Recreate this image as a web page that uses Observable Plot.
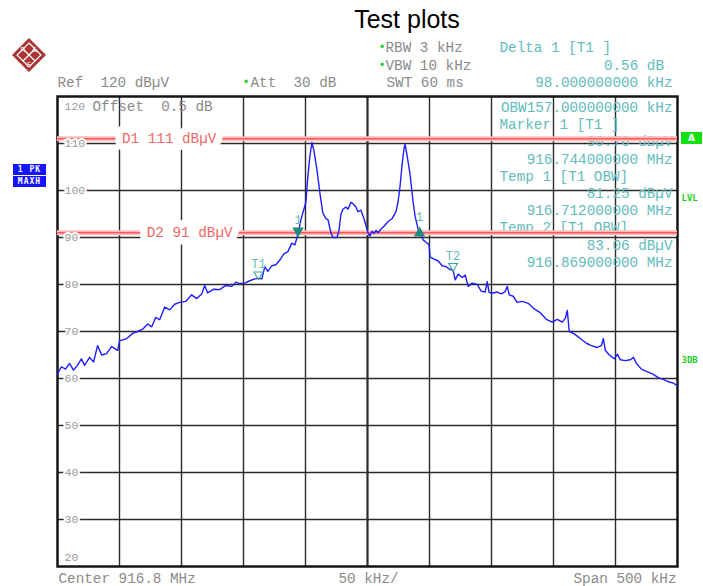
<!DOCTYPE html>
<html><head><meta charset="utf-8">
<script src="https://cdn.jsdelivr.net/npm/d3@7"></script>
<script src="https://cdn.jsdelivr.net/npm/@observablehq/plot@0.6"></script>
<style>
body{margin:0;background:#fff;}
#page{position:relative;width:703px;height:586px;overflow:hidden;}
#title{position:absolute;left:407px;top:4px;transform:translateX(-50%);font:25px/30px "Liberation Sans",Arial,sans-serif;color:#000;white-space:nowrap;z-index:2;}
#chart{position:absolute;left:0;top:35px;z-index:1;}
.badge{position:absolute;left:13px;width:33px;height:11px;background:#1414ff;color:#fff;font:bold 8px/11px "DejaVu Sans Mono",monospace;text-align:center;letter-spacing:1px;z-index:3;}
#abox{position:absolute;left:681px;top:132px;width:21px;height:12px;background:#11e011;color:#fff;font:bold 9px/12px "DejaVu Sans",sans-serif;text-align:center;z-index:3;}
#logo{position:absolute;left:10px;top:36px;z-index:3;}
</style></head>
<body><div id="page">
<div id="title"></div>
<svg id="logo" width="38" height="38" viewBox="0 0 38 38">
  <polygon points="19,2 36,19 19,36 2,19" fill="#a83434"/>
  <polygon points="19,7 31,19 19,31 7,19" fill="none" stroke="#fff" stroke-width="1.2"/>
  <line x1="13" y1="25" x2="25" y2="13" stroke="#fff" stroke-width="1.2"/>
  <line x1="13" y1="13" x2="25" y2="25" stroke="#fff" stroke-width="1.2"/>
  <text x="13" y="16" font-size="7" fill="#fff" font-family="DejaVu Sans" text-anchor="middle">R</text>
  <text x="25" y="16" font-size="7" fill="#fff" font-family="DejaVu Sans" text-anchor="middle">&amp;</text>
  <text x="19" y="31" font-size="7" fill="#fff" font-family="DejaVu Sans" text-anchor="middle">S</text>
</svg>
<div id="chart"></div>
</div>
<script>
// ---------- data ----------
const titleText = "Test plots";
const traceKHz = [-250,-246.8,-243.6,-240.3,-237.1,-233.9,-230.7,-228.2,-224.1,-220.9,-217.7,-214.4,-210.4,-206.4,-201.5,-199.9,-194.2,-189.4,-185.3,-181.3,-177.3,-174.0,-170.8,-167.6,-163.5,-159.5,-155.5,-151.5,-146.6,-141.8,-137.7,-133.7,-131.3,-128.9,-124.0,-119.2,-114.3,-109.5,-106.2,-103.0,-99.0,-94.9,-90.9,-87.7,-85.2,-82.8,-80.4,-77.1,-73.9,-70.7,-67.4,-64.2,-61.0,-58.6,-56.0,-53.7,-51.3,-49.7,-48.1,-46.4,-44.8,-43.2,-40.8,-38.4,-36.0,-33.5,-31.9,-29.5,-27.9,-24.6,-23.0,-21.4,-19.8,-17.4,-15.8,-13.3,-11.7,-9.3,-7.7,-5.3,-2.8,-1.2,0.4,2.0,3.6,5.3,6.9,8.5,10.9,13.3,16.6,19.8,23.0,24.6,26.3,27.9,29.5,30.3,31.9,34.3,36.8,38.4,40.8,42.0,44.8,47.3,49.7,50.5,53.7,57.0,60.2,63.4,66.6,69.0,70.7,73.1,76.4,78.8,81.2,84.4,88.5,91.7,94.9,96.5,98.1,101.4,104.6,107.8,111.0,112.7,114.3,117.5,120.7,124.8,129.6,134.5,139.3,144.2,149.0,153.0,157.1,159.5,161.1,162.7,166.8,171.6,176.5,180.5,185.3,188.6,190.2,191.8,195.0,199.1,201.5,203.9,208.0,212.0,214.5,216.9,220.9,224.9,229.8,234.6,239.5,242.7,246.7,250.0];
const traceDB = [61.0,62.5,62.0,63.2,61.8,62.8,64.2,62.8,64.5,63.5,67.0,65.0,65.3,66.8,66.0,68.0,68.5,69.6,70.0,70.5,71.6,71.0,73.0,72.5,75.2,74.6,75.8,76.2,76.4,77.8,77.0,78.0,79.8,78.2,79.0,78.9,79.8,79.6,80.5,80.2,80.3,80.8,81.2,81.3,81.2,83.8,82.8,84.0,84.2,85.2,86.5,87.0,88.8,88.4,90.8,93.8,96.0,97.5,103.0,107.5,110.2,108.5,104.5,99.5,95.2,94.0,93.8,91.0,90.0,90.0,91.5,95.0,96.0,96.5,96.0,97.5,97.2,96.5,95.5,95.8,94.0,92.5,91.0,90.3,91.3,90.9,91.5,91.0,91.8,92.4,93.4,94.0,95.5,97.5,101.0,105.5,109.0,109.8,107.5,103.5,97.5,94.5,91.8,91.3,89.5,89.0,88.4,85.8,85.4,85.0,84.0,83.8,83.2,83.06,81.0,82.2,81.5,82.0,79.6,80.3,80.0,78.6,78.4,80.6,78.3,78.2,78.4,78.0,78.5,79.6,77.8,77.5,76.2,76.4,76.0,74.8,74.0,72.6,72.0,72.6,72.0,72.8,74.5,70.0,69.5,68.5,67.5,67.0,66.6,67.0,68.5,66.0,65.0,64.2,65.2,64.0,63.8,64.0,64.5,63.2,62.0,61.5,61.0,60.2,59.7,59.3,59.0,58.4];
const gridKHz = [-200,-150,-100,-50,0,50,100,150,200];
const gridDB = [30,40,50,60,70,80,90,100,110];
const edgeDB = [120,20];
const displayLineDB = [111,91];
const displayLineLabels = ["D1 111 dBµV","D2 91 dBµV"];
const displayLabelKHz = [-198,-178];
const markerNames = ["1","1","T1","T2"];
const markerKHz = [-56,42,-88,69];
const markerDB = [90.76,91.32,81.25,83.06];
const settingsText = ["Ref  120 dBµV","Att  30 dB","RBW 3 kHz","VBW 10 kHz","SWT 60 ms"];
const deltaText = ["Delta 1 [T1 ]","0.56 dB","98.000000000 kHz"];
const readoutText = ["OBW157.000000000 kHz","Marker 1 [T1 ]","90.76 dBµV","916.744000000 MHz","Temp 1 [T1 OBW]","81.25 dBµV","916.712000000 MHz","Temp 2 [T1 OBW]","83.06 dBµV","916.869000000 MHz"];
const offsetText = "Offset  0.5 dB";
const footerText = ["Center 916.8 MHz","50 kHz/","Span 500 kHz"];
const badgeText = ["1 PK","MAXH"];
const sideText = ["A","LVL","3DB"];

// ---------- layout ----------
const FX = 57, FY = 96; // frame origin in page coords
const MONO = "Liberation Mono";
const GRAY = "#8a8a8a", TEAL = "#62bcbc", RED = "#ff5a5a", GREEN = "#22d022";
function label(str, px, py, o = {}) {
  return Plot.text([str], {
    frameAnchor: "top-left", dx: px - FX, dy: py - FY, text: d => d,
    lineAnchor: o.line ?? "bottom", textAnchor: o.anchor ?? "start",
    fill: o.fill ?? GRAY, fontSize: o.size ?? 14.3, fontFamily: o.family ?? MONO,
    fontWeight: o.weight ?? "normal"
  });
}
const readoutLeft = new Set(["Marker 1 [T1 ]","Temp 1 [T1 OBW]","Temp 2 [T1 OBW]"]);

document.getElementById("title").textContent = titleText;
badgeText.forEach((t, i) => {
  const d = document.createElement("div");
  d.className = "badge"; d.style.top = (164 + 12 * i) + "px"; d.textContent = t;
  document.getElementById("page").appendChild(d);
});
const ab = document.createElement("div"); ab.id = "abox"; ab.textContent = sideText[0];
document.getElementById("page").appendChild(ab);

const marks = [
  Plot.ruleX(gridKHz, {stroke: "#2b2b2b", strokeWidth: d => d === 0 ? 2.2 : 1.4}),
  Plot.ruleY(gridDB, {stroke: "#2b2b2b", strokeWidth: 1.4}),
  Plot.frame({stroke: "#151515", strokeWidth: 2.5}),
  ...readoutText.map((t, i) => readoutLeft.has(t)
      ? label(t, 499, 111.5 + 17.2 * i, {fill: TEAL})
      : label(t, 672, 111.5 + 17.2 * i, {fill: TEAL, anchor: "end"})),
  Plot.ruleY(displayLineDB, {stroke: "#ffbdbd", strokeWidth: 5}),
  Plot.ruleY(displayLineDB, {stroke: RED, strokeWidth: 1.6}),
  Plot.text(displayLineLabels, {x: displayLabelKHz, y: displayLineDB, text: d => d, textAnchor: "start",
    fill: "#f26868", stroke: "white", strokeWidth: 15, strokeLinejoin: "round", paintOrder: "stroke", fontSize: 14.3, fontFamily: MONO}),
  Plot.text(gridDB, {x: -250, y: d => d, text: d => String(d), dx: 7, textAnchor: "start",
    fill: "#9a9a9a", stroke: "white", strokeWidth: 4, paintOrder: "stroke", fontSize: 11.5, fontFamily: MONO}),
  Plot.text(edgeDB, {x: -250, y: d => d, text: d => String(d), dx: 7, textAnchor: "start",
    fill: "#9a9a9a", fontSize: 11.5, fontFamily: MONO, filter: d => d === 120, dy: 10}),
  Plot.text(edgeDB, {x: -250, y: d => d, text: d => String(d), dx: 7, textAnchor: "start",
    fill: "#9a9a9a", fontSize: 11.5, fontFamily: MONO, filter: d => d === 20, dy: -9}),
  label(offsetText, 92, 110),
  Plot.line(traceDB, {x: traceKHz, y: traceDB, stroke: "#1e1eff", strokeWidth: 1.4}),
  Plot.dot([0], {x: [markerKHz[0]], y: [markerDB[0]], symbol: "triangle", rotate: 180, r: 3.3, fill: "#1f8a7e", stroke: "#1f8a7e", dy: -3}),
  Plot.dot([0], {x: [markerKHz[1]], y: [markerDB[1]], symbol: "triangle", r: 3.3, fill: "#1f8a7e", stroke: "#1f8a7e", dy: 2}),
  Plot.dot([0, 1], {x: markerKHz.slice(2), y: markerDB.slice(2), symbol: "triangle", rotate: 180, r: 3.3, fill: "none", stroke: "#3aa898", strokeWidth: 1.1, dy: -4}),
  Plot.text(markerNames, {x: markerKHz, y: markerDB, text: d => d, dy: -14, fill: "#62bcb0", fontSize: 12, fontFamily: MONO}),
  label("•", 378, 50, {fill: GREEN, size: 12}),
  label("•", 378, 68, {fill: GREEN, size: 12}),
  label("•", 242, 85.5, {fill: GREEN, size: 12}),
  label(settingsText[0], 57, 86.5),
  label(settingsText[1], 250, 86.5),
  label(settingsText[2], 385, 51.7),
  label(settingsText[3], 385, 69.3),
  label(settingsText[4], 386, 86.7),
  label(deltaText[0], 499, 51.7, {fill: TEAL}),
  label(deltaText[1], 663.5, 69.3, {fill: TEAL, anchor: "end"}),
  label(deltaText[2], 672, 86.7, {fill: TEAL, anchor: "end"}),
  label(footerText[0], 58, 582),
  label(footerText[1], 338, 582),
  label(footerText[2], 676, 582, {anchor: "end"}),
  label(sideText[1], 681, 198, {fill: GREEN, size: 9, weight: "bold", line: "middle", family: "DejaVu Sans Mono"}),
  label(sideText[2], 681, 360, {fill: GREEN, size: 9, weight: "bold", line: "middle", family: "DejaVu Sans Mono"})
];

const chart = Plot.plot({
  width: 703, height: 551,
  marginTop: 61, marginBottom: 20, marginLeft: 57, marginRight: 26,
  x: {domain: [-250, 250], axis: null},
  y: {domain: [20, 120], axis: null},
  style: {overflow: "visible", background: "transparent"},
  marks
});
document.getElementById("chart").appendChild(chart);
</script>
</body></html>
